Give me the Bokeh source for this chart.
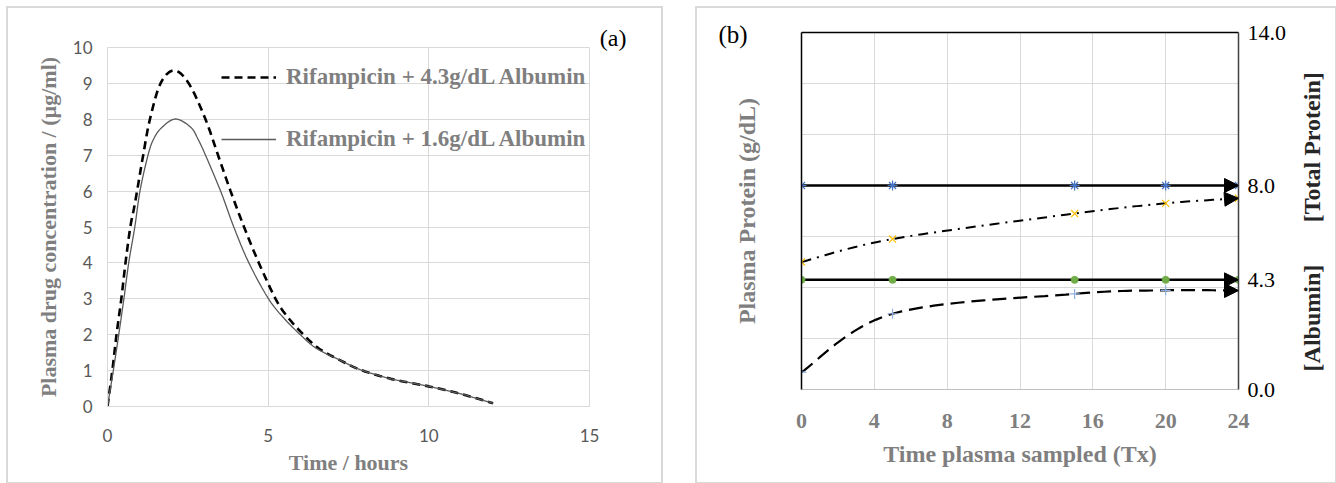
import math
from bokeh.plotting import figure
from bokeh.models import (Legend, LegendItem, FixedTicker, NumeralTickFormatter,
                          Arrow, NormalHead, Range1d, LinearAxis)
from bokeh.core.properties import value
from bokeh.layouts import row
from bokeh.embed import file_html
from bokeh.resources import INLINE

# ---------------- Panel (a) data ----------------
time_43 = [0, 0.15, 0.28, 0.43, 0.56, 0.71, 0.82, 0.92, 1.11, 1.32, 1.65, 2.07, 2.53,
           3.05, 3.44, 3.83, 4.25, 4.71, 5.23, 5.60, 6.10, 6.60, 7.26, 7.88, 8.82, 10.0, 11.0, 12.0]
conc_43 = [0, 1.0, 2.0, 3.0, 4.0, 5.0, 5.5, 6.0, 7.0, 8.0, 9.0, 9.36, 9.0,
           8.0, 7.0, 6.0, 5.0, 4.0, 3.0, 2.5, 2.0, 1.6, 1.28, 1.02, 0.77, 0.56, 0.35, 0.09]
time_16 = [0, 0.18, 0.35, 0.51, 0.66, 0.85, 1.01, 1.26, 1.44, 1.70, 2.12, 2.59, 2.81,
           3.05, 3.52, 3.93, 4.40, 5.01, 5.50, 6.00, 6.50, 7.26, 7.88, 8.82, 10.0, 11.0, 12.0]
conc_16 = [0, 1.0, 2.0, 3.0, 4.0, 5.0, 6.0, 7.0, 7.46, 7.78, 8.01, 7.78, 7.46,
           7.0, 6.0, 5.0, 4.0, 3.0, 2.45, 2.0, 1.62, 1.28, 1.02, 0.77, 0.56, 0.35, 0.09]
label_43 = "Rifampicin + 4.3g/dL Albumin"
label_16 = "Rifampicin + 1.6g/dL Albumin"
x_ticks_a = [0, 5, 10, 15]
y_ticks_a = [0, 1, 2, 3, 4, 5, 6, 7, 8, 9, 10]

# ---------------- Panel (b) data ----------------
time_b = [0, 5, 15, 20, 24]
total_protein = [8.0, 8.0, 8.0, 8.0, 8.0]
total_protein_low = [5.0, 5.9, 6.9, 7.3, 7.5]
albumin = [4.3, 4.3, 4.3, 4.3, 4.3]
albumin_low = [0.68, 2.97, 3.75, 3.89, 3.88]
x_ticks_b = [0, 4, 8, 12, 16, 20, 24]
right_ticks_b = [0.0, 4.3, 8.0, 14.0]
grid_y_b = [2, 4, 6, 8, 10, 12]
right_titles = ["[Total Protein]", "[Albumin]"]
right_title_y = [9.5, 2.8]

SERIF = "Liberation Serif"
GRAY_T = "#7f7f7f"


def smooth(xs, ys, n=16):
    """Catmull-Rom rendering of a smoothed line through the data points."""
    px, py = [], []
    m = len(xs)
    for i in range(m - 1):
        x0, y0 = (xs[i - 1], ys[i - 1]) if i > 0 else (xs[i], ys[i])
        x1, y1 = xs[i], ys[i]
        x2, y2 = xs[i + 1], ys[i + 1]
        x3, y3 = (xs[i + 2], ys[i + 2]) if i + 2 < m else (xs[i + 1], ys[i + 1])
        for k in range(n):
            t = k / n
            t2, t3 = t * t, t * t * t
            px.append(0.5 * (2 * x1 + (-x0 + x2) * t + (2 * x0 - 5 * x1 + 4 * x2 - x3) * t2 + (-x0 + 3 * x1 - 3 * x2 + x3) * t3))
            py.append(0.5 * (2 * y1 + (-y0 + y2) * t + (2 * y0 - 5 * y1 + 4 * y2 - y3) * t2 + (-y0 + 3 * y1 - 3 * y2 + y3) * t3))
    px.append(xs[-1])
    py.append(ys[-1])
    return px, py


# ================= Panel (a) =================
pa = figure(width=653, height=474, x_range=Range1d(0, 15), y_range=Range1d(0, 10),
            output_backend="svg", toolbar_location=None,
            min_border_left=99, min_border_right=72, min_border_top=39, min_border_bottom=76)
pa.frame_align = False
pa.styles = {"outline": "2px solid #d9d9d9"}
pa.outline_line_color = "#d9d9d9"

pa.title.text = "(a)"
pa.title.align = "right"
pa.title.offset = -37
pa.title.standoff = -6
pa.title.text_font = SERIF
pa.title.text_font_style = "normal"
pa.title.text_font_size = "24px"
pa.title.text_color = "black"

xs43, ys43 = smooth(time_43, conc_43, 6)
xs16, ys16 = smooth(time_16, conc_16, 6)
r43 = pa.line(xs43, ys43, line_color="black", line_width=2.6, line_dash="8 5")
r16 = pa.line(xs16, ys16, line_color="#5a5a5a", line_width=1.3)

for ax in (pa.xaxis[0], pa.yaxis[0]):
    ax.axis_line_color = "#d9d9d9"
    ax.major_tick_line_color = None
    ax.minor_tick_line_color = None
    ax.major_tick_out = 0
    ax.major_tick_in = 0
    ax.major_label_text_font = "Lato"
    ax.major_label_text_font_size = "17px"
    ax.major_label_text_color = "#595959"
    ax.axis_label_text_font = SERIF
    ax.axis_label_text_font_style = "bold"
    ax.axis_label_text_font_size = "22px"
    ax.axis_label_text_color = GRAY_T
pa.xaxis.ticker = FixedTicker(ticks=x_ticks_a)
pa.yaxis.ticker = FixedTicker(ticks=y_ticks_a)
pa.xaxis.major_label_standoff = 22
pa.yaxis.major_label_standoff = 15
pa.xaxis.axis_label = "Time / hours"
pa.yaxis.axis_label = "Plasma drug concentration / (\u00b5g/ml)"
pa.xaxis.axis_label_standoff = 5
pa.yaxis.axis_label_standoff = 9
pa.xgrid.grid_line_color = "#d9d9d9"
pa.ygrid.grid_line_color = "#d9d9d9"

leg = Legend(items=[LegendItem(label=label_43, renderers=[r43]),
                    LegendItem(label=label_16, renderers=[r16])],
             location=(114, 254), glyph_width=55, glyph_height=20, label_height=20,
             label_standoff=10, spacing=36, padding=0, margin=0,
             border_line_color=None, background_fill_alpha=0,
             label_text_font=SERIF, label_text_font_style="bold",
             label_text_font_size="23px", label_text_color=GRAY_T)
pa.add_layout(leg)

# ================= Panel (b) =================
pb = figure(width=601, height=474, x_range=Range1d(0, 24), y_range=Range1d(0, 14),
            output_backend="svg", toolbar_location=None,
            min_border_left=104, min_border_right=60, min_border_top=24, min_border_bottom=93)
pb.frame_align = False
pb.outline_line_color = None

pb.title.text = "(b)"
pb.title.align = "left"
pb.title.offset = -83
pb.title.standoff = -30
pb.title.text_font = SERIF
pb.title.text_font_style = "normal"
pb.title.text_font_size = "25px"
pb.title.text_color = "black"

pb.xgrid.grid_line_color = "#d9d9d9"
pb.ygrid.grid_line_color = "#d9d9d9"
pb.xgrid.ticker = FixedTicker(ticks=x_ticks_b)
pb.ygrid.ticker = FixedTicker(ticks=grid_y_b)

# lines
pb.line(time_b, total_protein, line_color="black", line_width=2.5)
pb.line(time_b, albumin, line_color="black", line_width=2.5)
sx1, sy1 = smooth(time_b, total_protein_low)
pb.line(sx1, sy1, line_color="black", line_width=2, line_dash="10 6 2 6")
sx2, sy2 = smooth(time_b, albumin_low)
pb.line(sx2, sy2, line_color="black", line_width=2.2, line_dash="14 7")

# arrow heads at the end of each line
for ys in (total_protein, total_protein_low, albumin, albumin_low):
    pb.add_layout(Arrow(end=NormalHead(size=14, fill_color="black", line_color="black"),
                        x_start=time_b[-2], y_start=ys[-2], x_end=time_b[-1], y_end=ys[-1],
                        line_alpha=0))

# markers
pb.scatter(time_b, total_protein, marker="asterisk", size=10, line_color="#4472c4", line_width=1.2)
pb.scatter(time_b, total_protein_low, marker="x", size=10, line_color="#ffc000", line_width=1.2)
pb.scatter(time_b, albumin, marker="circle", size=7, fill_color="#70ad47", line_color="#70ad47")
pb.scatter(time_b, albumin_low, marker="cross", size=10, line_color="#8fb0e0", line_width=1.2)

# axes
pb.xaxis.ticker = FixedTicker(ticks=x_ticks_b)
pb.xaxis.axis_line_color = "#bfbfbf"
pb.xaxis.major_tick_line_color = None
pb.xaxis.minor_tick_line_color = None
pb.xaxis.major_tick_out = 0
pb.xaxis.major_tick_in = 0
pb.xaxis.major_label_text_font = SERIF
pb.xaxis.major_label_text_font_style = "bold"
pb.xaxis.major_label_text_font_size = "22px"
pb.xaxis.major_label_text_color = GRAY_T
pb.xaxis.major_label_standoff = 24
pb.xaxis.axis_label = "Time plasma sampled (Tx)"
pb.xaxis.axis_label_text_font = SERIF
pb.xaxis.axis_label_text_font_style = "bold"
pb.xaxis.axis_label_text_font_size = "24px"
pb.xaxis.axis_label_text_color = GRAY_T
pb.xaxis.axis_label_standoff = 10

pb.yaxis.ticker = FixedTicker(ticks=[])
pb.yaxis.axis_line_color = "black"
pb.yaxis.axis_line_width = 1.5
pb.yaxis.major_tick_line_color = None
pb.yaxis.minor_tick_line_color = None
pb.yaxis.major_tick_out = 0
pb.yaxis.major_tick_in = 0
pb.yaxis.major_label_standoff = 0
pb.yaxis.axis_label = "Plasma Protein (g/dL)"
pb.yaxis.axis_label_text_font = SERIF
pb.yaxis.axis_label_text_font_style = "bold"
pb.yaxis.axis_label_text_font_size = "24px"
pb.yaxis.axis_label_text_color = GRAY_T
pb.yaxis.axis_label_standoff = 42

ra = LinearAxis(ticker=FixedTicker(ticks=right_ticks_b), formatter=NumeralTickFormatter(format="0.0"))
ra.axis_line_color = "#404040"
ra.axis_line_width = 1.5
ra.major_tick_line_color = None
ra.minor_tick_line_color = None
ra.major_tick_out = 0
ra.major_tick_in = 0
ra.major_label_text_font = SERIF
ra.major_label_text_font_size = "22px"
ra.major_label_text_color = "black"
ra.major_label_standoff = 9
pb.add_layout(ra, "right")

ta = LinearAxis(ticker=FixedTicker(ticks=[]))
ta.axis_line_color = "black"
ta.axis_line_width = 1.5
ta.major_tick_line_color = None
ta.minor_tick_line_color = None
ta.major_tick_out = 0
ta.major_tick_in = 0
ta.major_label_standoff = 0
ta.major_label_text_font_size = "0px"
pb.add_layout(ta, "above")

# right-hand titles of panel (b), in a narrow strip sharing panel (b)'s y scale
pc = figure(width=37, height=474, x_range=Range1d(0, 1), y_range=pb.y_range,
            output_backend="svg", toolbar_location=None,
            min_border_left=0, min_border_right=0, min_border_top=24, min_border_bottom=93)
pc.frame_align = False
pc.axis.visible = False
pc.grid.visible = False
pc.outline_line_color = None
pc.text(x=[0.36, 0.36], y=right_title_y, text=right_titles, angle=math.pi / 2,
        text_align="center", text_baseline="middle", text_font=value(SERIF),
        text_font_style="bold", text_font_size="24px", text_color="#262626")

wb = row(pb, pc, spacing=0)
wb.styles = {"outline": "2px solid #d9d9d9"}

layout = row(pa, wb, spacing=36)
layout.margin = (8, 0, 0, 8)
open("out.html", "w").write(file_html(layout, INLINE))
